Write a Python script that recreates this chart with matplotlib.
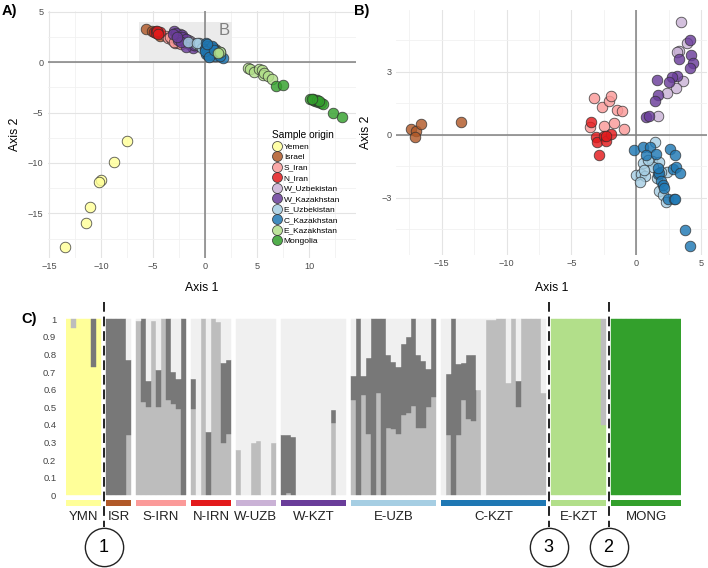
import matplotlib
matplotlib.use('Agg')
import matplotlib.pyplot as plt
from matplotlib.lines import Line2D
from matplotlib.patches import Rectangle
import numpy as np

plt.rcParams['font.family'] = ['Liberation Sans', 'DejaVu Sans']

W, H = 708, 568
fig = plt.figure(figsize=(W / 100, H / 100), dpi=100)


def px_axes(l, t, r, b):
    return fig.add_axes([l / W, 1 - b / H, (r - l) / W, (b - t) / H])


# ---------------- data: panel A (PCoA, all samples) ----------------
origins = ["Yemen", "Israel", "S_Iran", "N_Iran", "W_Uzbekistan", "W_Kazakhstan",
           "E_Uzbekistan", "C_Kazakhstan", "E_Kazakhstan", "Mongolia"]
origin_colors = ["#ffff99", "#b15928", "#fb9a99", "#e31a1c", "#cab2d6", "#6a3d9a",
                 "#a6cee3", "#1f78b4", "#b2df8a", "#33a02c"]

a_yemen = [(-7.56, -7.79), (-8.75, -9.94), (-10.03, -11.70), (-10.26, -11.93),
           (-11.06, -14.41), (-11.44, -15.93), (-13.46, -18.31)]
a_israel = [(-5.74, 3.28), (-5.16, 3.12), (-4.74, 2.95), (-4.58, 2.85), (-4.35, 2.62)]
a_s_iran = [(-3.8, 2.6), (-3.55, 2.42), (-3.2, 2.2), (-2.9, 1.86), (-2.6, 1.9), (-2.3, 1.8),
            (-3.4, 2.5), (-2.0, 2.1), (-2.8, 2.3), (-3.0, 1.95)]
a_n_iran = [(-4.9, 3.0), (-4.7, 3.05), (-4.6, 2.9), (-4.5, 3.0), (-4.75, 2.85),
            (-4.4, 2.95), (-4.65, 3.1), (-4.55, 2.8)]
a_w_uzb = [(-2.4, 2.8), (-1.2, 1.9), (-2.0, 2.4), (-1.5, 2.1), (-0.9, 1.6), (-2.6, 2.7),
           (-1.7, 2.2), (-0.5, 1.8)]
a_w_kaz = [(-3.0, 3.08), (-2.8, 2.9), (-2.27, 2.69), (-2.2, 2.5), (-1.9, 2.3), (-2.6, 2.2),
           (-1.6, 1.8), (-1.2, 1.37), (-1.86, 1.47), (-3.1, 2.75), (-2.3, 2.0), (-1.1, 1.7),
           (-2.7, 2.5)]
a_e_uzb = [(-0.9, 1.8), (-0.5, 1.6), (-0.2, 1.7), (0.3, 1.3), (0.6, 1.5), (1.0, 1.2),
           (-0.6, 1.9), (0.2, 1.0), (0.8, 0.9), (-0.3, 1.4), (1.2, 0.8), (0.5, 1.1),
           (-1.63, 2.02), (0.1, 1.5), (0.9, 1.3), (1.4, 1.0), (-0.83, 1.86)]
a_c_kaz = [(0.1, 1.9), (0.3, 1.6), (0.0, 1.3), (0.2, 1.0), (0.5, 0.8), (0.8, 0.9), (1.0, 1.1),
           (0.4, 1.3), (0.7, 1.4), (0.1, 0.8), (1.2, 0.7), (1.67, 0.45), (0.6, 1.6), (0.9, 0.6),
           (0.3, 0.7), (0.0, 1.1), (1.1, 0.9), (0.4, 0.5), (0.8, 1.2), (1.4, 0.6), (0.2, 1.8)]
a_e_kaz = [(4.10, -0.59), (4.29, -0.72), (4.68, -0.95), (5.19, -0.72), (5.42, -0.78),
           (5.51, -1.25), (5.64, -1.11), (5.99, -1.37), (6.38, -1.70), (1.41, 0.97),
           (1.26, 0.87)]
a_mongolia = [(6.79, -2.37), (7.44, -2.31), (10.06, -3.69), (10.32, -3.66), (10.54, -3.83),
              (10.87, -3.93), (11.09, -4.02), (11.28, -4.12), (10.38, -3.76), (10.71, -3.76),
              (10.96, -3.86), (12.24, -5.08), (13.11, -5.41), (10.22, -3.62)]
a_points = [a_yemen, a_israel, a_s_iran, a_n_iran, a_w_uzb, a_w_kaz,
            a_e_uzb, a_c_kaz, a_e_kaz, a_mongolia]

# ---------------- data: panel B (PCoA, subset) ----------------
b_israel = [(-17.39, 0.27), (-16.98, 0.18), (-17.06, -0.13), (-16.60, 0.51), (-13.49, 0.62)]
b_s_iran = [(-3.28, 1.76), (-2.61, 1.33), (-2.07, 1.59), (-1.92, 1.84), (-1.51, 1.19),
            (-1.07, 1.13), (-3.54, 0.38), (-2.51, 0.43), (-1.74, 0.57), (-0.92, 0.27)]
b_n_iran = [(-3.49, 0.62), (-3.10, -0.09), (-3.02, -0.36), (-2.51, -0.05), (-2.30, -0.28),
            (-1.92, 0.02), (-2.87, -0.95), (-2.35, -0.06)]
b_w_uzb = [(3.43, 5.38), (3.92, 4.38), (3.27, 3.97), (3.63, 2.56), (3.04, 2.21),
           (2.37, 1.97), (1.71, 0.89), (3.17, 3.95)]
b_w_kaz = [(4.15, 4.51), (4.23, 3.79), (4.35, 3.40), (4.15, 3.16), (3.33, 3.60), (3.14, 2.81),
           (2.79, 2.76), (2.50, 2.53), (1.58, 2.62), (1.66, 1.89), (1.45, 1.60), (0.78, 0.83),
           (1.01, 0.87)]
b_e_uzb = [(1.45, -0.35), (0.52, -1.35), (1.22, -1.24), (-0.04, -1.92), (0.34, -1.89),
           (0.68, -1.95), (0.27, -2.25), (1.78, -2.68), (2.04, -2.87), (2.27, -3.19),
           (2.35, -1.76), (1.73, -1.28), (1.32, -1.52), (0.94, -1.20), (1.58, -2.08),
           (0.60, -1.68), (1.89, -1.76)]
b_c_kaz = [(-0.20, -0.73), (0.50, -0.57), (1.06, -0.57), (1.50, -0.92), (0.78, -0.97),
           (1.66, -1.86), (1.78, -1.84), (1.91, -2.19), (2.04, -2.39), (2.14, -2.56),
           (2.63, -0.68), (2.99, -0.97), (2.86, -1.64), (3.07, -1.52), (3.38, -1.84),
           (2.48, -3.08), (2.89, -3.08), (3.02, -3.08), (3.74, -4.55), (4.15, -5.32),
           (1.71, -1.57)]
b_points = [[], b_israel, b_s_iran, b_n_iran, b_w_uzb, b_w_kaz, b_e_uzb, b_c_kaz, [], []]

# ---------------- data: panel C (admixture proportions) ----------------
# cluster order (bottom -> top): yellow, light green, green, light grey, dark grey, very light grey
cluster_colors = ["#ffff99", "#b2df8a", "#33a02c", "#bdbdbd", "#787878", "#f0f0f0"]
pop_labels = ["YMN", "ISR", "S-IRN", "N-IRN", "W-UZB", "W-KZT", "E-UZB", "C-KZT", "E-KZT", "MONG"]

q_ymn = [(1, 0, 0, 0, 0, 0), (0.95, 0, 0, 0.05, 0, 0), (1, 0, 0, 0, 0, 0), (1, 0, 0, 0, 0, 0),
         (1, 0, 0, 0, 0, 0), (0.73, 0, 0, 0, 0.27, 0), (1, 0, 0, 0, 0, 0)]
q_isr = [(0, 0, 0, 0, 1, 0), (0, 0, 0, 0, 1, 0), (0, 0, 0, 0, 1, 0), (0, 0, 0, 0, 1, 0),
         (0, 0, 0, 0.34, 0.43, 0.23)]
q_sirn = [(0, 0, 0, 0.99, 0, 0.01), (0, 0, 0, 0.53, 0.47, 0), (0, 0, 0, 0.50, 0.15, 0.35),
          (0, 0, 0, 0.99, 0, 0.01), (0, 0, 0, 0.50, 0.21, 0.29), (0, 0, 0, 1.0, 0, 0),
          (0, 0, 0, 0.54, 0.46, 0), (0, 0, 0, 0.52, 0.18, 0.30), (0, 0, 0, 0.49, 0.17, 0.34),
          (0, 0, 0, 0, 1.0, 0)]
q_nirn = [(0, 0, 0, 0.49, 0.17, 0.34), (0, 0, 0, 0, 0, 1.0), (0, 0, 0, 1.0, 0, 0),
          (0, 0, 0, 0, 0.36, 0.64), (0, 0, 0, 1.0, 0, 0), (0, 0, 0, 0.985, 0, 0.015),
          (0, 0, 0, 0.30, 0.45, 0.25), (0, 0, 0, 0.35, 0.42, 0.23)]
q_wuzb = [(0, 0, 0, 0.26, 0, 0.74), (0, 0, 0, 0, 0, 1.0), (0, 0, 0, 0, 0, 1.0),
          (0, 0, 0, 0.30, 0, 0.70), (0, 0, 0, 0.31, 0, 0.69), (0, 0, 0, 0, 0, 1.0),
          (0, 0, 0, 0, 0, 1.0), (0, 0, 0, 0.30, 0, 0.70)]
q_wkzt = [(0, 0, 0, 0, 0.34, 0.66), (0, 0, 0, 0.015, 0.33, 0.655), (0, 0, 0, 0, 0.33, 0.67),
          (0, 0, 0, 0, 0, 1.0), (0, 0, 0, 0, 0, 1.0), (0, 0, 0, 0, 0, 1.0), (0, 0, 0, 0, 0, 1.0),
          (0, 0, 0, 0, 0, 1.0), (0, 0, 0, 0, 0, 1.0), (0, 0, 0, 0, 0, 1.0),
          (0, 0, 0, 0.41, 0.075, 0.515), (0, 0, 0, 0, 0, 1.0), (0, 0, 0, 0, 0, 1.0)]
q_euzb = [(0, 0, 0, 0.54, 0.14, 0.32), (0, 0, 0, 0, 1.0, 0), (0, 0, 0, 0.57, 0.11, 0.32),
          (0, 0, 0, 0.35, 0.43, 0.22), (0, 0, 0, 0, 1.0, 0), (0, 0, 0, 0.58, 0.42, 0),
          (0, 0, 0, 0, 1.0, 0), (0, 0, 0, 0.38, 0.42, 0.20), (0, 0, 0, 0.375, 0.385, 0.24),
          (0, 0, 0, 0.35, 0.38, 0.27), (0, 0, 0, 0.455, 0.405, 0.14), (0, 0, 0, 0.47, 0.43, 0.10),
          (0, 0, 0, 0.51, 0.49, 0), (0, 0, 0, 0.38, 0.42, 0.20), (0, 0, 0, 0.38, 0.385, 0.235),
          (0, 0, 0, 0.50, 0.22, 0.28), (0, 0, 0, 0.56, 0.44, 0)]
q_ckzt = [(0, 0, 0, 0, 0, 1.0), (0, 0, 0, 0.345, 0.345, 0.31), (0, 0, 0, 0, 1.0, 0),
          (0, 0, 0, 0.345, 0.40, 0.255), (0, 0, 0, 0.54, 0.21, 0.25), (0, 0, 0, 0.435, 0.365, 0.20),
          (0, 0, 0, 0.425, 0.375, 0.20), (0, 0, 0, 0.60, 0, 0.40), (0, 0, 0, 0, 0, 1.0),
          (0, 0, 0, 0.995, 0, 0.005), (0, 0, 0, 0.995, 0, 0.005), (0, 0, 0, 1.0, 0, 0),
          (0, 0, 0, 1.0, 0, 0), (0, 0, 0, 0.64, 0, 0.36), (0, 0, 0, 1.0, 0, 0),
          (0, 0, 0, 0.50, 0.15, 0.35), (0, 0, 0, 1.0, 0, 0), (0, 0, 0, 1.0, 0, 0),
          (0, 0, 0, 1.0, 0, 0), (0, 0, 0, 1.0, 0, 0), (0, 0, 0, 0.58, 0, 0.42)]
q_ekzt = [(0, 1, 0, 0, 0, 0)] * 10 + [(0, 0.40, 0, 0.60, 0, 0)]
q_mong = [(0, 0, 1, 0, 0, 0)] * 14
q_groups = [q_ymn, q_isr, q_sirn, q_nirn, q_wuzb, q_wkzt, q_euzb, q_ckzt, q_ekzt, q_mong]

boundaries = [(0, "1"), (7, "3"), (8, "2")]   # dashed line after group index, circled label

# ---------------- helpers ----------------
def style_scatter(ax, xmaj, xmin, ymaj, ymin, xlabels, ylabels):
    ax.set_xticks(xmaj)
    ax.set_xticks(xmin, minor=True)
    ax.set_yticks(ymaj)
    ax.set_yticks(ymin, minor=True)
    ax.set_xticklabels(xlabels)
    ax.set_yticklabels(ylabels)
    ax.grid(which='major', color='#e4e4e4', lw=0.8)
    ax.grid(which='minor', color='#f1f1f1', lw=0.6)
    ax.set_axisbelow(True)
    for s in ax.spines.values():
        s.set_visible(False)
    ax.tick_params(which='both', length=0, labelsize=6.6, labelcolor='#4d4d4d', pad=3)
    ax.axhline(0, color='#808080', lw=1.1, zorder=1.5)
    ax.axvline(0, color='#808080', lw=1.1, zorder=1.5)
    ax.set_xlabel("Axis 1", fontsize=8.8)
    ax.set_ylabel("Axis 2", fontsize=8.8)


def draw_points(ax, groups):
    for pts, col in zip(groups, origin_colors):
        if not pts:
            continue
        xs = [p[0] for p in pts]
        ys = [p[1] for p in pts]
        ax.scatter(xs, ys, s=58, c=col, edgecolors='#303030', linewidths=0.6,
                   alpha=0.82, zorder=3)


# ---------------- panel A ----------------
axA = px_axes(47.7, 10.7, 355.6, 257.7)
axA.set_xlim(-15.15, 14.45)
axA.set_ylim(-19.4, 5.1)
style_scatter(axA, [-15, -10, -5, 0, 5, 10], [-12.5, -7.5, -2.5, 2.5, 7.5, 12.5],
              [-15, -10, -5, 0, 5], [-17.5, -12.5, -7.5, -2.5, 2.5],
              ["\u221215", "\u221210", "\u22125", "0", "5", "10"],
              ["\u221215", "\u221210", "\u22125", "0", "5"])
axA.add_patch(Rectangle((-6.38, 0.14), 8.91, 3.87, facecolor='#ebebeb', edgecolor='none', zorder=1.2))
axA.text(1.8, 3.1, "B", fontsize=12, color='#808080', ha='center', va='center', zorder=2)
draw_points(axA, a_points)
axA.xaxis.set_label_coords(0.5, -0.098)
axA.yaxis.set_label_coords(-0.087, 0.5)

handles = [Line2D([], [], marker='o', linestyle='', markersize=7.2, markerfacecolor=c,
                  markeredgecolor='#303030', markeredgewidth=0.6, alpha=0.85)
           for c in origin_colors]
leg = axA.legend(handles, origins, title="Sample origin", loc='upper left',
                 bbox_to_anchor=(268 / W, 1 - 126 / H), bbox_transform=fig.transFigure,
                 frameon=False, fontsize=6, title_fontsize=7.3, borderpad=0,
                 labelspacing=0.32, handletextpad=0.2, handlelength=1.2, alignment='left')

# ---------------- panel B ----------------
axB = px_axes(396.3, 10.2, 706.8, 255.0)
axB.set_xlim(-18.5, 5.44)
axB.set_ylim(-5.73, 5.93)
style_scatter(axB, [-15, -10, -5, 0, 5], [-17.5, -12.5, -7.5, -2.5, 2.5],
              [-3, 0, 3], [-4.5, -1.5, 1.5, 4.5],
              ["\u221215", "\u221210", "\u22125", "0", "5"], ["\u22123", "0", "3"])
draw_points(axB, b_points)
axB.xaxis.set_label_coords(0.5, -0.11)
axB.yaxis.set_label_coords(-0.078, 0.5)

# ---------------- panel C ----------------
v_top = (495.3 - 300) / 176
v_bot = (495.3 - 568) / 176
axC = px_axes(66, 300, 681, 568)
axC.set_ylim(v_bot, v_top)
sizes = [len(g) for g in q_groups]
starts = []
pos = 0
for n in sizes:
    starts.append(pos)
    pos += n + 1
axC.set_xlim(0, pos - 1)

for gi, grp in enumerate(q_groups):
    n = len(grp)
    xs = starts[gi] + np.arange(n) + 0.5
    bottom = np.zeros(n)
    for k in range(6):
        vals = np.array([b[k] for b in grp], dtype=float)
        m = vals > 0
        if m.any():
            axC.bar(xs[m], vals[m], width=1.0, bottom=bottom[m], color=cluster_colors[k],
                    edgecolor=cluster_colors[k], linewidth=0.3)
        bottom += vals
    center = starts[gi] + n / 2
    axC.bar(center, 0.034, width=n, bottom=-0.061, color=origin_colors[gi], linewidth=0)
    axC.text(center, -0.125, pop_labels[gi], ha='center', va='center', fontsize=9.5,
             color='#222222')

circle_v = (495.3 - 547) / 176
top_line = (495.3 - 302) / 176
bot_line = (495.3 - 527) / 176
for gi, lab in boundaries:
    xb = starts[gi] + sizes[gi] + 0.5
    axC.plot([xb, xb], [top_line, bot_line], color='#222222', lw=1.4, dashes=(5, 2.5),
             clip_on=False, zorder=5)
    axC.scatter([xb], [circle_v], s=760, facecolor='white', edgecolor='#222222',
                linewidths=1.0, clip_on=False, zorder=6)
    axC.text(xb, circle_v, lab, ha='center', va='center', fontsize=13, zorder=7)

axC.set_yticks(np.round(np.arange(0, 1.01, 0.1), 1))
axC.set_yticklabels(["0", "0.1", "0.2", "0.3", "0.4", "0.5", "0.6", "0.7", "0.8", "0.9", "1"])
axC.set_xticks([])
axC.tick_params(axis='y', length=0, labelsize=6.8, labelcolor='#444444', pad=7)
for s in axC.spines.values():
    s.set_visible(False)
axC.patch.set_alpha(0)

# ---------------- panel letters ----------------
fig.text(9 / W, 1 - 11.5 / H, "A)", fontsize=10.5, fontweight='bold', ha='center', va='center')
fig.text(362 / W, 1 - 11 / H, "B)", fontsize=10.5, fontweight='bold', ha='center', va='center')
fig.text(29 / W, 1 - 319 / H, "C)", fontsize=10.5, fontweight='bold', ha='center', va='center')

fig.savefig("out.png", dpi=100)
